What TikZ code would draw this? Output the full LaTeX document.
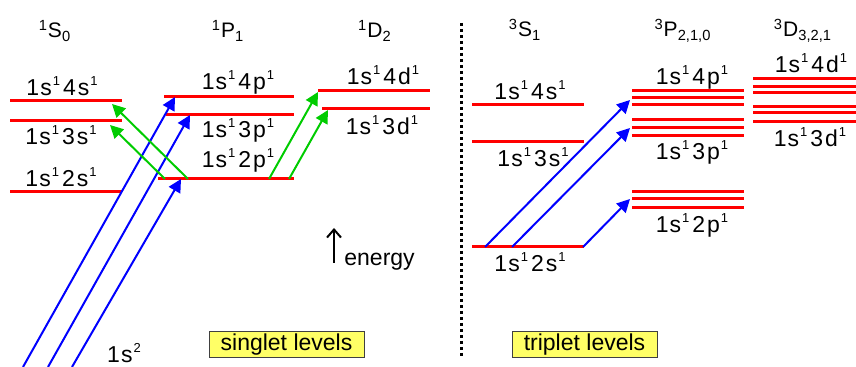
\documentclass[tikz,border=0pt]{standalone}
\usepackage{fontspec}
\setmainfont{Liberation Sans}
\usetikzlibrary{positioning,arrows.meta}
\definecolor{LevRed}{RGB}{255,0,0}
\definecolor{UpBlue}{RGB}{0,0,255}
\definecolor{DownGreen}{RGB}{0,204,0}
\definecolor{TagYellow}{RGB}{255,255,102}

\newcommand{\upidx}[1]{\raisebox{5pt}{\fontsize{6.5}{7}\selectfont#1}}
\newcommand{\cfg}[2]{1\kern.5pt s\kern.5pt\upidx{1}\kern1.5pt#1\kern1pt#2\kern.5pt\upidx{1}}
\newcommand{\trm}[3]{\textsuperscript{#1}#2\textsubscript{#3}}

\begin{document}
\begin{tikzpicture}[x=.5pt,y=-.5pt,
  lev/.style={LevRed,line width=1.5pt},
  up/.style={UpBlue,line width=1pt,-{Triangle[length=6.5pt,width=6.5pt]}},
  down/.style={DownGreen,line width=1pt,-{Triangle[length=6.5pt,width=6.5pt]}},
  cfgl/.style={anchor=base,inner sep=0pt,font=\fontsize{11.5}{13}\selectfont},
  term/.style={anchor=base,inner sep=0pt,font=\fontsize{10.5}{12}\selectfont},
  tag/.style={draw=black!75,line width=.5pt,fill=TagYellow,inner sep=0pt,
    minimum height=13pt,font=\fontsize{11.5}{13}\selectfont}]
\useasboundingbox (0,0) rectangle (856,367);

% singlet levels
\foreach \xa/\xb/\y in {10/122/101,10/122/121,10/122/192,
  164/294/97,166/294/115,158/294/179,318/430/91,322/430/109}
  \draw[lev] (\xa,\y) -- (\xb,\y);
% triplet levels
\foreach \y in {105,142,247}
  \draw[lev] (472,\y) -- (584,\y);
\foreach \y in {91,98,105,120,128,136,192,199,208}
  \draw[lev] (632,\y) -- (744,\y);
\foreach \y in {79,87,93,107,113,122}
  \draw[lev] (753,\y) -- (856,\y);

% term headers
\node[term] (hS0) at (55,38) {\trm{1}{S}{0}};
\node[term] (hP1) at (228,38) {\trm{1}{P}{1}};
\node[term] (hD2) at (375,38) {\trm{1}{D}{2}};
\node[term] (hS1) at (525,37) {\trm{3}{S}{1}};
\node[term] (hP3) at (683,37) {\trm{3}{P}{2,1,0}};
\node[term] (hD3) at (803,37) {\trm{3}{D}{3,2,1}};

% configurations
\node[cfgl] (s4s) at (62,96) {\cfg{4}{s}};
\node[cfgl] (s3s) at (61,145) {\cfg{3}{s}};
\node[cfgl] (s2s) at (61,187) {\cfg{2}{s}};
\node[cfgl] (s4p) at (238,90) {\cfg{4}{p}};
\node[cfgl] (s3p) at (238,138) {\cfg{3}{p}};
\node[cfgl] (s2p) at (238,168) {\cfg{2}{p}};
\node[cfgl] (s4d) at (383,85) {\cfg{4}{d}};
\node[cfgl] (s3d) at (382,135) {\cfg{3}{d}};
\node[cfgl] (t4s) at (530,100) {\cfg{4}{s}};
\node[cfgl] (t3s) at (533,167) {\cfg{3}{s}};
\node[cfgl] (t2s) at (530,272) {\cfg{2}{s}};
\node[cfgl] (t4p) at (692,85) {\cfg{4}{p}};
\node[cfgl] (t3p) at (692,160) {\cfg{3}{p}};
\node[cfgl] (t2p) at (692,233) {\cfg{2}{p}};
\node[cfgl] (t4d) at (811,73) {\cfg{4}{d}};
\node[cfgl] (t3d) at (810,147) {\cfg{3}{d}};
\node[cfgl] (gnd) at (124,363) {1\kern.5pt s\kern.5pt\upidx{2}};

% arrow ends
\coordinate (g1) at (23,367);
\coordinate (g2) at (48,367);
\coordinate (g3) at (72,367);
\coordinate (e4p) at (175,97);
\coordinate (e3p) at (190,115);
\coordinate (e2p) at (181,179);
\coordinate (p2a) at (165,179);
\coordinate (p2b) at (188,179);
\coordinate (p2c) at (269,179);
\coordinate (p2d) at (289,179);
\coordinate (e3s) at (110,125);
\coordinate (e4s) at (112,104);
\coordinate (e4d) at (318,92);
\coordinate (e3d) at (328,110);
\coordinate (o1) at (485,247);
\coordinate (o2) at (512,247);
\coordinate (o3) at (583,247);
\coordinate (f4p) at (630,100);
\coordinate (f3p) at (630,128);
\coordinate (f2p) at (630,199);

\draw[up] (g1) -- (e4p);
\draw[up] (g2) -- (e3p);
\draw[up] (g3) -- (e2p);
\draw[down] (p2a) -- (e3s);
\draw[down] (p2b) -- (e4s);
\draw[down] (p2c) -- (e4d);
\draw[down] (p2d) -- (e3d);
\draw[up] (o1) -- (f4p);
\draw[up] (o2) -- (f3p);
\draw[up] (o3) -- (f2p);

% energy
\coordinate (en0) at (334,263);
\coordinate (en1) at (334,228);
\draw[line width=1pt,-{Straight Barb[length=4pt,width=7pt]}] (en0) -- (en1);
\node[cfgl,anchor=base west] (energy) at (344,266) {energy};

% divider and tags
\draw[line width=1.5pt,dash pattern=on 1.5pt off 1.5pt] (461,23) -- (461,357);
\node[tag,minimum width=77.5pt] (sing) at (286.5,345) {singlet levels};
\node[tag,minimum width=72.5pt] (trip) at (584.5,345) {triplet levels};
\end{tikzpicture}
\end{document}
